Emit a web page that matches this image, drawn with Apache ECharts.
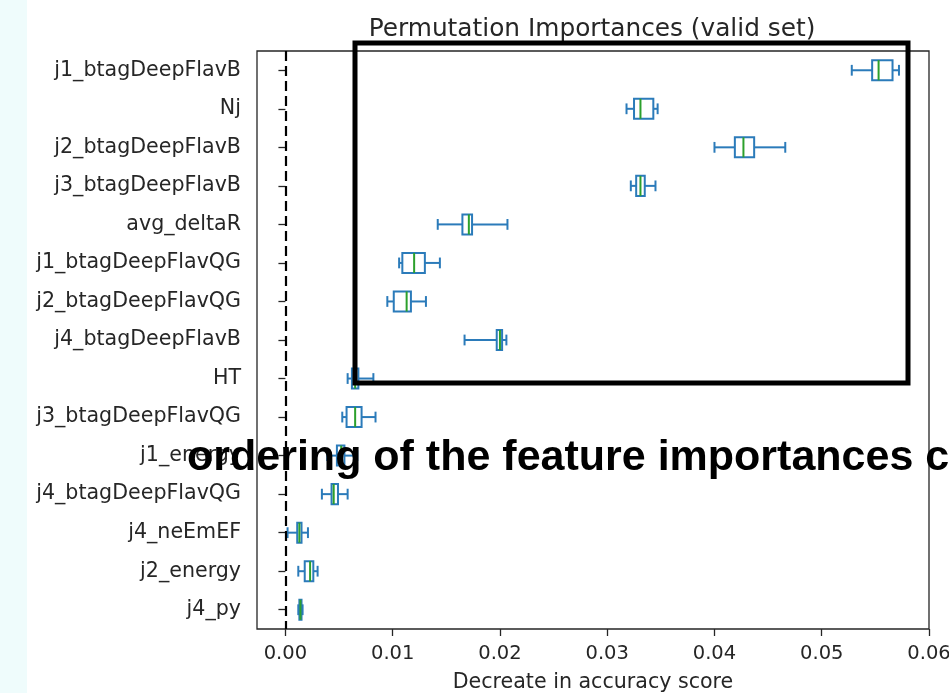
<!DOCTYPE html>
<html>
<head>
<meta charset="utf-8">
<script src="https://cdn.jsdelivr.net/npm/echarts@6/dist/echarts.min.js"></script>
<style>
html,body{margin:0;padding:0;background:#fff;overflow:hidden;}
#strip{position:absolute;left:0;top:0;width:27px;height:693px;background:#effcfc;}
#chart{position:absolute;left:0;top:0;width:949px;height:693px;}
</style>
</head>
<body>
<div id="strip"></div>
<div id="chart"></div>
<script>
// Feature names (top to bottom)
const categories = [
  "j1_btagDeepFlavB", "Nj", "j2_btagDeepFlavB", "j3_btagDeepFlavB", "avg_deltaR",
  "j1_btagDeepFlavQG", "j2_btagDeepFlavQG", "j4_btagDeepFlavB", "HT", "j3_btagDeepFlavQG",
  "j1_energy", "j4_btagDeepFlavQG", "j4_neEmEF", "j2_energy", "j4_py"
];
// Box statistics
const whiskerLow = [0.0528, 0.0318, 0.0400, 0.0322, 0.0142, 0.0106, 0.0095, 0.0167, 0.0058, 0.0053, 0.0039, 0.0034, 0.0002, 0.0012, 0.0012];
const q1         = [0.0547, 0.0325, 0.0419, 0.0327, 0.0165, 0.0109, 0.0101, 0.0197, 0.0062, 0.0057, 0.0048, 0.0043, 0.0011, 0.0018, 0.0013];
const median     = [0.0553, 0.0331, 0.0427, 0.0331, 0.0171, 0.0120, 0.0113, 0.0200, 0.0065, 0.0065, 0.0052, 0.0045, 0.0013, 0.0023, 0.0014];
const q3         = [0.0566, 0.0343, 0.0437, 0.0335, 0.0174, 0.0130, 0.0117, 0.0202, 0.0068, 0.0071, 0.0055, 0.0049, 0.0015, 0.0026, 0.0015];
const whiskerHigh= [0.0572, 0.0347, 0.0466, 0.0345, 0.0207, 0.0144, 0.0131, 0.0206, 0.0082, 0.0084, 0.0067, 0.0058, 0.0021, 0.0030, 0.0016];
// X tick labels
const xTicks = [0.00, 0.01, 0.02, 0.03, 0.04, 0.05, 0.06];

const chartTitle = "Permutation Importances (valid set)";
const xName = "Decreate in accuracy score";
const overlayText = "ordering of the feature importances changed";

const data = categories.map((c, i) => [i, whiskerLow[i], q1[i], median[i], q3[i], whiskerHigh[i]]);

const BLUE = '#2b7bba', GREEN = '#2ca02c', FONT = 'DejaVu Sans';

function renderItem(params, api) {
  const idx = api.value(0);
  const band = api.size([0, 1])[1];
  const hb = band * 0.26, hc = band * 0.14;
  const pLow = api.coord([api.value(1), idx]);
  const pQ1 = api.coord([api.value(2), idx]);
  const pMed = api.coord([api.value(3), idx]);
  const pQ3 = api.coord([api.value(4), idx]);
  const pHigh = api.coord([api.value(5), idx]);
  const y = pMed[1];
  const ls = {stroke: BLUE, lineWidth: 2, fill: null};
  return {
    type: 'group',
    children: [
      {type: 'line', shape: {x1: pLow[0], y1: y, x2: pQ1[0], y2: y}, style: ls},
      {type: 'line', shape: {x1: pQ3[0], y1: y, x2: pHigh[0], y2: y}, style: ls},
      {type: 'line', shape: {x1: pLow[0], y1: y - hc, x2: pLow[0], y2: y + hc}, style: ls},
      {type: 'line', shape: {x1: pHigh[0], y1: y - hc, x2: pHigh[0], y2: y + hc}, style: ls},
      {type: 'rect', shape: {x: pQ1[0], y: y - hb, width: pQ3[0] - pQ1[0], height: 2 * hb}, style: {stroke: BLUE, lineWidth: 2, fill: 'none'}},
      {type: 'line', shape: {x1: pMed[0], y1: y - hb, x2: pMed[0], y2: y + hb}, style: {stroke: GREEN, lineWidth: 2}}
    ]
  };
}

const chart = echarts.init(document.getElementById('chart'), null, {renderer: 'canvas'});
chart.setOption({
  animation: false,
  backgroundColor: 'transparent',
  title: {
    text: chartTitle,
    left: 587, textAlign: 'center', top: 12,
    textStyle: {fontFamily: FONT, fontSize: 24.8, fontWeight: 'normal', color: '#262626'}
  },
  grid: {left: 257, right: 20, top: 51, bottom: 64, outerBoundsMode: 'none', containLabel: false,
         show: true, borderColor: '#262626', borderWidth: 1.3, backgroundColor: 'transparent'},
  xAxis: {
    type: 'value', min: -0.00265, max: 0.06,
    name: xName, nameLocation: 'middle', nameGap: 43,
    nameTextStyle: {fontFamily: FONT, fontSize: 20.6, color: '#262626'},
    axisLine: {show: false},
    splitLine: {show: false},
    axisTick: {show: true, length: 7, lineStyle: {color: '#262626', width: 1.3}, customValues: xTicks},
    axisLabel: {fontFamily: FONT, fontSize: 19.5, color: '#262626', margin: 15, customValues: xTicks, formatter: v => v.toFixed(2), showMaxLabel: true}
  },
  yAxis: {
    type: 'category', data: categories, inverse: true, boundaryGap: true,
    axisLine: {show: false},
    axisTick: {show: true, alignWithLabel: true, length: 7, lineStyle: {color: '#262626', width: 1.3}},
    axisLabel: {fontFamily: FONT, fontSize: 20.6, color: '#262626', margin: 16, interval: 0},
    splitLine: {show: false}
  },
  series: [{
    type: 'custom',
    renderItem: renderItem,
    encode: {x: [1, 2, 3, 4, 5], y: 0},
    data: data,
    z: 3,
    markLine: {
      silent: true, symbol: ['none', 'none'], label: {show: false},
      lineStyle: {color: '#000', type: [10, 5], width: 2.2},
      data: [{xAxis: 0}]
    }
  }],
  graphic: [
    {type: 'rect', z: 100, shape: {x: 355, y: 43, width: 553, height: 340}, style: {stroke: '#000', lineWidth: 5, fill: 'none'}},
    {type: 'text', z: 101, x: 187, y: 437, style: {text: overlayText, font: 'bold 43px "Liberation Sans", Arial, sans-serif', fill: '#000', verticalAlign: 'top', align: 'left'}}
  ]
});
</script>
</body>
</html>
